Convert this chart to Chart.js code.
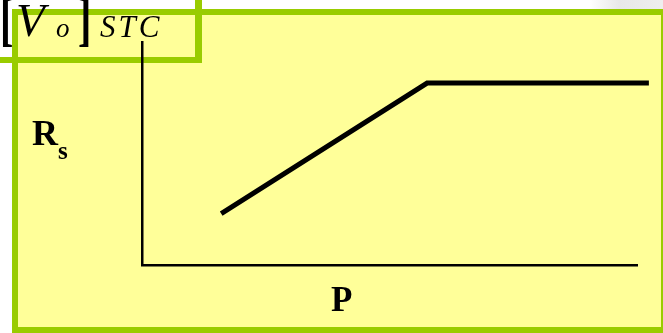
<!DOCTYPE html>
<html>
<head>
<meta charset="utf-8">
<script src="https://cdn.jsdelivr.net/npm/chart.js@4.4.0/dist/chart.umd.min.js"></script>
<style>
  html, body { margin: 0; padding: 0; background: #fff; }
  #wrap { width: 663px; height: 333px; position: relative; }
</style>
</head>
<body>
<div id="wrap"><canvas id="c" width="663" height="333"></canvas></div>
<script>
// Data (axis units 0..100 on both scales; curve runs slightly past the x axis end)
const pValues  = [16, 57.6, 102.4];
const rsValues = [23, 81.6, 81.6];
const xLabel = 'P';
const yLabelMain = 'R';
const yLabelSub = 's';

const GREEN = '#99CC00';
const YELLOW = '#FFFF99';

const bgPlugin = {
  id: 'bg',
  beforeDraw(chart) {
    const ctx = chart.ctx;
    ctx.save();
    ctx.fillStyle = '#ffffff';
    ctx.fillRect(0, 0, 663, 333);
    const g = ctx.createLinearGradient(590, 0, 663, 0);
    g.addColorStop(0, 'rgba(230,230,230,0)');
    g.addColorStop(0.4, 'rgba(232,232,232,1)');
    g.addColorStop(1, 'rgba(238,238,238,1)');
    ctx.fillStyle = g;
    ctx.fillRect(590, 0, 73, 10);
    ctx.fillStyle = GREEN;
    ctx.fillRect(12, 9, 651, 324);
    ctx.fillStyle = YELLOW;
    ctx.fillRect(18, 15, 643, 312);
    ctx.fillStyle = GREEN;
    ctx.fillRect(195, 0, 7, 63);
    ctx.fillRect(0, 57, 202, 6);
    ctx.restore();
  },
  afterDraw(chart) {
    const ctx = chart.ctx;
    ctx.save();
    ctx.fillStyle = '#000';
    ctx.textBaseline = 'alphabetic';
    ctx.textAlign = 'left';
    ctx.font = 'bold 40px "Liberation Serif"';
    ctx.save(); ctx.translate(0, 39); ctx.scale(1, 1.5); ctx.fillText('[', 0, 0); ctx.restore();
    ctx.save(); ctx.translate(78, 39); ctx.scale(1, 1.5); ctx.fillText(']', 0, 0); ctx.restore();
    ctx.font = 'italic 47px "Liberation Serif"';
    ctx.fillText('V', 16, 36);
    ctx.font = 'italic 27px "Liberation Serif"';
    ctx.fillText('o', 56, 37);
    ctx.font = 'italic 31px "Liberation Serif"';
    ctx.letterSpacing = '3px';
    ctx.fillText('STC', 100, 37);
    ctx.letterSpacing = '0px';
    ctx.font = 'bold 36px "Liberation Serif"';
    ctx.fillText(yLabelMain, 32, 145);
    ctx.font = 'bold 25px "Liberation Serif"';
    ctx.fillText(yLabelSub, 58, 159);
    ctx.font = 'bold 35px "Liberation Serif"';
    ctx.fillText(xLabel, 331, 311);
    ctx.restore();
  }
};

new Chart(document.getElementById('c'), {
  type: 'scatter',
  data: {
    datasets: [{
      data: pValues.map((x, i) => ({ x: x, y: rsValues[i] })),
      showLine: true,
      borderColor: '#000',
      borderWidth: 5,
      borderCapStyle: 'butt',
      borderJoinStyle: 'miter',
      pointRadius: 0,
      pointHoverRadius: 0,
      tension: 0,
      clip: false
    }]
  },
  options: {
    responsive: false,
    animation: false,
    events: [],
    layout: { padding: { left: 142, right: 26, top: 42, bottom: 68 } },
    plugins: { legend: { display: false }, tooltip: { enabled: false } },
    scales: {
      x: {
        type: 'linear', min: 0, max: 100,
        grid: { display: false },
        border: { display: true, color: '#000', width: 2.5 },
        ticks: { display: false },
        afterFit(s) { s.height = 0; }
      },
      y: {
        type: 'linear', min: 0, max: 100,
        grid: { display: false },
        border: { display: true, color: '#000', width: 2.5 },
        ticks: { display: false },
        afterFit(s) { s.width = 0; }
      }
    }
  },
  plugins: [bgPlugin]
});
</script>
</body>
</html>
